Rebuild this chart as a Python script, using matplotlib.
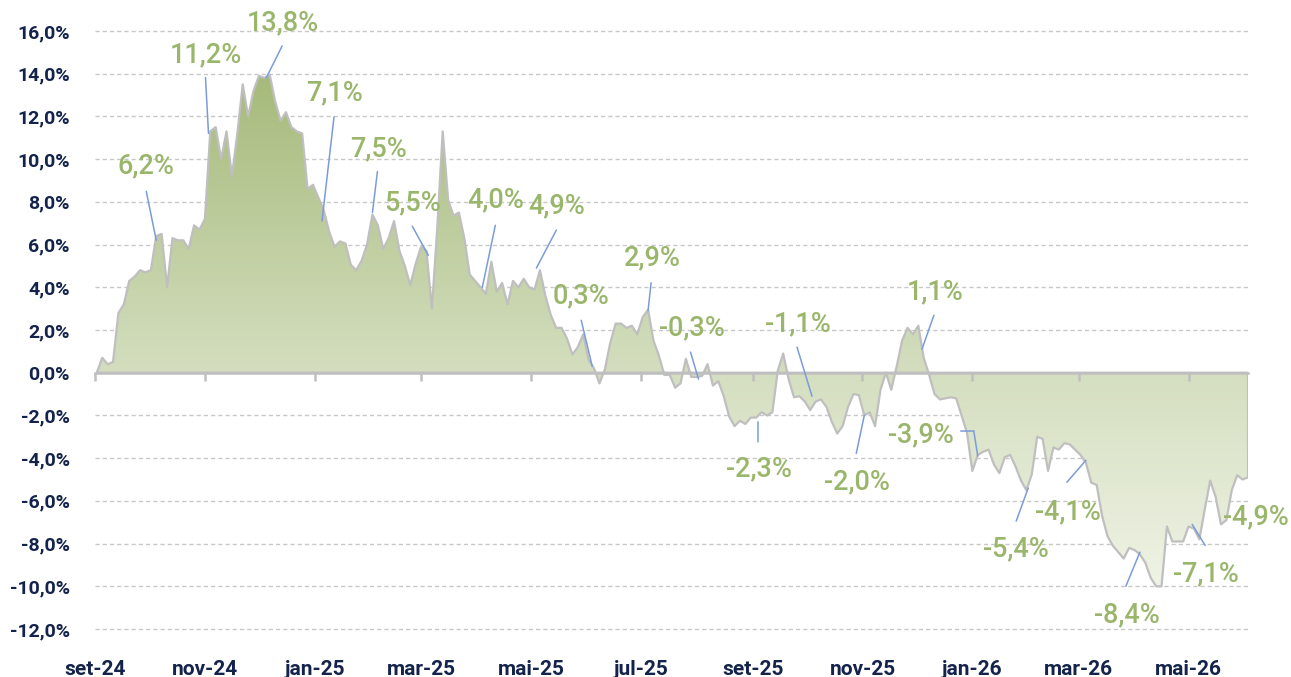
import numpy as np
import pandas as pd
import matplotlib
matplotlib.use("Agg")
import matplotlib.pyplot as plt
import matplotlib.dates as mdates
import matplotlib.transforms as mtransforms
from matplotlib.colors import LinearSegmentedColormap
from matplotlib.ticker import FuncFormatter

plt.rcParams['font.family'] = ['Roboto', 'DejaVu Sans']

# cumulative return, %, one reading every 3 days from 2024-09-02
values = [
    0.0, 0.7, 0.4, 0.5, 2.8, 3.2, 4.3, 4.5, 4.8, 4.7,
    4.8, 6.4, 6.5, 4.0, 6.3, 6.2, 6.2, 5.8, 6.9, 6.7,
    7.2, 11.3, 11.5, 10.0, 11.3, 9.2, 11.2, 13.5, 12.0, 13.2,
    13.9, 13.8, 13.95, 12.7, 11.8, 12.2, 11.5, 11.3, 11.2, 8.6,
    8.8, 8.2, 7.6, 6.6, 5.9, 6.15, 6.05, 5.05, 4.8, 5.25,
    6.0, 7.4, 6.9, 5.8, 6.3, 7.1, 5.7, 5.0, 4.1, 5.1,
    5.9, 5.7, 3.0, 6.8, 11.3, 8.1, 7.35, 7.5, 6.3, 4.6,
    4.3, 4.0, 3.7, 5.2, 3.8, 4.2, 3.2, 4.3, 4.0, 4.4,
    4.0, 3.9, 4.8, 3.6, 2.7, 2.1, 2.1, 1.6, 0.85, 1.2,
    1.8, 0.6, 0.2, -0.5, 0.15, 1.4, 2.3, 2.3, 2.1, 2.2,
    1.8, 2.6, 2.95, 1.5, 0.8, -0.1, -0.1, -0.7, -0.5, 0.65,
    -0.2, -0.2, -0.15, 0.4, -0.6, -0.4, -1.1, -2.05, -2.5, -2.25,
    -2.4, -2.1, -2.1, -1.85, -2.0, -1.85, 0.1, 0.9, -0.3, -1.15,
    -1.1, -1.35, -1.75, -1.35, -1.25, -1.6, -2.3, -2.85, -2.5, -1.6,
    -1.0, -1.05, -2.0, -1.85, -2.5, -0.8, 0.0, -0.8, 0.3, 1.5,
    2.1, 1.8, 2.2, 0.7, -0.1, -1.0, -1.25, -1.2, -1.15, -1.2,
    -2.0, -2.8, -4.6, -3.85, -3.7, -3.6, -4.3, -4.7, -3.95, -3.85,
    -4.4, -5.05, -5.5, -4.75, -3.0, -3.1, -4.6, -3.5, -3.6, -3.3,
    -3.35, -3.6, -3.85, -4.2, -5.15, -5.25, -6.7, -7.65, -8.1, -8.4,
    -8.7, -8.2, -8.3, -8.5, -8.9, -9.6, -10.0, -10.0, -7.2, -7.9,
    -7.9, -7.9, -7.2, -7.3, -7.8, -6.4, -5.05, -5.8, -7.1, -6.9,
    -5.5, -4.8, -5.0, -4.9,
]
dates = pd.date_range("2024-09-02", periods=len(values), freq="3D")

note_dates = ["2024-10-05", "2024-11-03", "2024-12-05", "2025-01-05", "2025-02-02",
              "2025-03-05", "2025-04-04", "2025-05-04", "2025-06-04", "2025-07-05",
              "2025-08-02", "2025-09-04", "2025-10-04", "2025-11-02", "2025-12-04",
              "2026-01-04", "2026-02-01", "2026-03-05", "2026-04-04", "2026-05-03",
              "2026-06-02"]
note_values = [6.2, 11.2, 13.8, 7.1, 7.5, 5.5, 4.0, 4.9, 0.3, 2.9, -0.3,
               -2.3, -1.1, -2.0, 1.1, -3.9, -5.4, -4.1, -8.4, -7.1, -4.9]

month_pt = ['jan', 'fev', 'mar', 'abr', 'mai', 'jun',
            'jul', 'ago', 'set', 'out', 'nov', 'dez']
tick_dates = pd.date_range("2024-09-01", "2026-05-01", freq="2MS")
tick_labels = [f"{month_pt[d.month - 1]}-{d.strftime('%y')}" for d in tick_dates]

# label placement, pixels relative to the labelled point
text_off = [(-10, 74), (-3, 79), (17, 55), (13, 128), (6, 64), (-16, 52), (13, 87),
            (20, 62), (-11, 70), (4, 53), (-7, 51), (1, -47), (-14, 72), (-7, -66),
            (13, 57), (-57, 21), (-12, -61), (-18, -52), (-13, -63), (14, -49), (10, -39)]
leaders = [[(0, 0), (-10, 49)], [(0, 0), (-3, 56)], [(0, 0), (16, 32)],
           [(0, 0), (12, 104)], [(0, 0), (5, 41)], [(0, 0), (-16, 29)],
           [(0, 0), (13, 62)], [(0, 0), (20, 38)], [(0, 0), (-11, 46)],
           [(0, 0), (3, 28)], [(0, 0), (-8, 27)], [(0, 0), (0, -20)],
           [(0, 0), (-15, 49)], [(0, 0), (-8, -38)], [(0, 0), (12, 34)],
           [(0, 0), (-4, 25), (-17, 25)], [(0, 0), (-12, -33)], [(0, 0), (-19, -22)],
           [(0, 0), (-14, -34)], [(0, 0), (13, -21)], []]

navy = '#14234b'
green_txt = '#99b66b'
blue = '#7b9bd9'
grey = '#bfbfbf'

W, H = 1291, 677
fig = plt.figure(figsize=(W / 100, H / 100), dpi=100)
ymin, ymax = -12.2, 16.2
ax = fig.add_axes([95 / W, 1 - 633.3 / H, (1248 - 95) / W, (633.3 - 26.7) / H])

x = mdates.date2num(dates.values)
y = np.array(values)

poly = ax.fill_between(x, y, 0, facecolor='none', edgecolor=grey, lw=1.6, zorder=3)
cmap = LinearSegmentedColormap.from_list(
    'g', [(0, '#a6ba7a'), (0.58, '#d4debf'), (1, '#eff3e5')])
grad = np.linspace(0, 1, 256).reshape(-1, 1)
im = ax.imshow(grad, extent=[x[0], x[-1], y.min(), y.max()], aspect='auto',
               cmap=cmap, origin='upper', zorder=2, interpolation='bilinear')
im.set_clip_path(poly.get_paths()[0], transform=ax.transData)

ax.set_xlim(mdates.date2num(np.datetime64("2024-09-01")), x[-1])
ax.set_ylim(ymin, ymax)

ax.set_yticks(np.arange(-12, 17, 2))
ax.yaxis.set_major_formatter(FuncFormatter(lambda v, p: f"{v:.1f}%".replace('.', ',')))
ax.set_xticks(mdates.date2num(tick_dates.values))
ax.set_xticklabels(tick_labels)
ax.tick_params(axis='both', length=0, labelcolor=navy, labelsize=14)
ax.tick_params(axis='x', labelsize=15)
ax.tick_params(axis='y', pad=18)
ax.tick_params(axis='x', pad=19)
for lab in ax.get_xticklabels() + ax.get_yticklabels():
    lab.set_fontweight('bold')
for s in ax.spines.values():
    s.set_visible(False)
ax.set_axisbelow(True)
ax.yaxis.grid(True, linestyle=(0, (3, 2.2)), color='#c8c8c8', lw=1)

# zero axis with its tick marks
zero = ax.secondary_xaxis((0 - ymin) / (ymax - ymin))
zero.set_zorder(5)
zero.spines['bottom'].set_color(grey)
zero.spines['bottom'].set_linewidth(1.8)
zero.set_xticks(mdates.date2num(tick_dates.values))
zero.tick_params(axis='x', length=6, width=1.8, color=grey, labelbottom=False)

for d, v, off, pts in zip(note_dates, note_values, text_off, leaders):
    xd = mdates.date2num(np.datetime64(d))
    for p, q in zip(pts[:-1], pts[1:]):
        tr = mtransforms.offset_copy(ax.transData, fig=fig, x=p[0], y=p[1], units='dots')
        ax.annotate('', xy=(xd, v), xycoords=tr, xytext=(q[0] - p[0], q[1] - p[1]),
                    textcoords='offset pixels', annotation_clip=False,
                    arrowprops=dict(arrowstyle='-', color=blue, lw=1.1,
                                    shrinkA=0, shrinkB=0), zorder=6)
    ax.annotate(f"{v:.1f}%".replace('.', ','), xy=(xd, v), xytext=off,
                textcoords='offset pixels', ha='center', va='center',
                color=green_txt, fontsize=19.5, fontweight='medium',
                annotation_clip=False, zorder=7)

fig.savefig('out.png', dpi=100)
